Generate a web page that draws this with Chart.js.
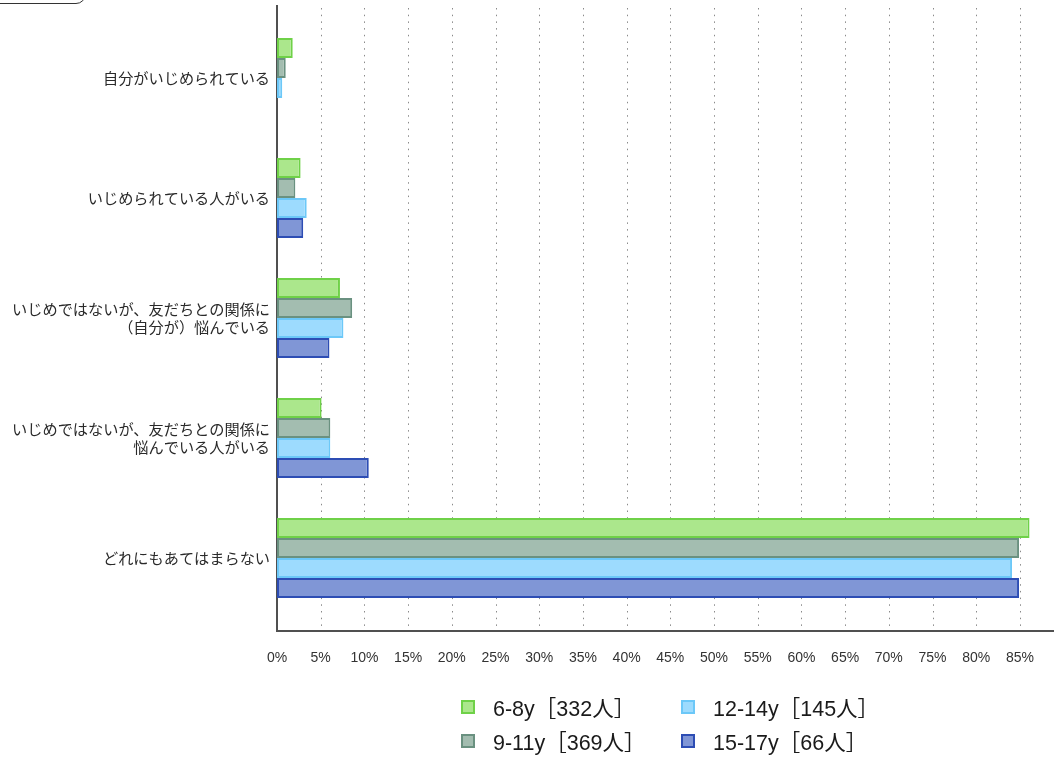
<!DOCTYPE html>
<html lang="ja">
<head>
<meta charset="utf-8">
<script src="https://cdn.jsdelivr.net/npm/chart.js@4.4.1/dist/chart.umd.min.js"></script>
<style>
  html, body { margin: 0; padding: 0; background: #fff; overflow: hidden; }
  #wrap { position: relative; width: 1054px; height: 757px; }
  #tab {
    position: absolute; left: -12px; top: -30px; width: 96px; height: 32px;
    border: 1.5px solid #333; border-radius: 10px; background: #fff;
  }
  #legend {
    position: absolute; left: 461px; top: 695px;
    display: grid; grid-template-columns: 220px 200px; row-gap: 11px;
    font-family: "Liberation Sans", Arial, "Noto Sans CJK JP", sans-serif;
    font-size: 21.5px; color: #1a1a1a;
  }
  .item { display: flex; align-items: center; height: 23px; }
  .sw { width: 14px; height: 14px; border: 2px solid; box-sizing: border-box; margin-right: 18px; }
</style>
</head>
<body>
<div id="wrap">
  <div id="tab"></div>
  <canvas id="chart" width="1054" height="757"></canvas>
  <div id="legend"></div>
</div>
<script>
const categories = [
  '自分がいじめられている',
  'いじめられている人がいる',
  ['いじめではないが、友だちとの関係に', '（自分が）悩んでいる'],
  ['いじめではないが、友だちとの関係に', '悩んでいる人がいる'],
  'どれにもあてはまらない'
];
const groups = ['6-8y［332人］', '9-11y［369人］', '12-14y［145人］', '15-17y［66人］'];
const age6to8 = [1.8, 2.7, 7.2, 5.1, 86.1];
const age9to11 = [1.0, 2.1, 8.6, 6.1, 84.9];
const age12to14 = [0.6, 3.4, 7.6, 6.1, 84.1];
const age15to17 = [0, 3.0, 6.0, 10.5, 84.9];
const xTicks = [0, 5, 10, 15, 20, 25, 30, 35, 40, 45, 50, 55, 60, 65, 70, 75, 80, 85];
const fills = ['#abe78c', '#a3bdb0', '#9ddbfe', '#8096d6'];
const borders = ['#6fd148', '#6a9180', '#6cc8f8', '#2d4db4'];

const seriesValues = [age6to8, age9to11, age12to14, age15to17];

// axis lines and dotted grid, drawn a bit past the plot area like the original
const frameLines = {
  id: 'frameLines',
  beforeDatasetsDraw(chart) {
    const { ctx, scales: { x } } = chart;
    const top = 5, bottom = 630, left = x.getPixelForValue(0);
    ctx.save();
    ctx.strokeStyle = '#8a8a8a';
    ctx.lineWidth = 1;
    ctx.setLineDash([1.5, 5.2]);
    x.ticks.forEach(t => {
      if (t.value === 0) return;
      const px = Math.round(x.getPixelForValue(t.value)) + 0.5;
      ctx.beginPath();
      ctx.moveTo(px, top + 3);
      ctx.lineTo(px, bottom);
      ctx.stroke();
    });
    ctx.setLineDash([]);
    ctx.strokeStyle = '#505050';
    ctx.lineWidth = 2;
    ctx.beginPath();
    ctx.moveTo(left, top);
    ctx.lineTo(left, bottom + 1);
    ctx.lineTo(chart.width, bottom + 1);
    ctx.stroke();
    ctx.restore();
  }
};

const chart = new Chart(document.getElementById('chart'), {
  type: 'bar',
  data: {
    labels: categories,
    datasets: groups.map((g, i) => ({
      label: g,
      data: seriesValues[i],
      backgroundColor: fills[i],
      borderColor: borders[i],
      borderWidth: 2,
      borderSkipped: false,
      categoryPercentage: 0.667,
      barPercentage: 1.0
    }))
  },
  options: {
    indexAxis: 'y',
    responsive: false,
    animation: false,
    layout: { padding: { top: 18, right: 0, bottom: 0, left: 0 } },
    plugins: { legend: { display: false }, tooltip: { enabled: false } },
    scales: {
      x: {
        min: 0,
        max: 88.9,
        afterBuildTicks: s => { s.ticks = xTicks.map(v => ({ value: v })); },
        afterFit: s => {
          s.height = 139;
          s.paddingLeft = 0;
          s.paddingRight = 0;
        },
        grid: { display: false, drawTicks: false },
        border: { display: false },
        ticks: {
          padding: 32,
          color: '#333',
          font: { family: '"Liberation Sans", Arial, sans-serif', size: 14 },
          callback: v => v + '%'
        }
      },
      y: {
        afterFit: s => { s.width = 277; },
        grid: { display: false, drawTicks: false },
        border: { display: false },
        ticks: {
          padding: 7,
          color: '#2a2a2a',
          font: { family: '"Noto Sans CJK JP", sans-serif', size: 15.2, lineHeight: 1.2 }
        }
      }
    }
  },
  plugins: [frameLines]
});

// legend laid out column-wise: 6-8y / 9-11y, then 12-14y / 15-17y
const legendEl = document.getElementById('legend');
[0, 2, 1, 3].forEach(i => {
  const ds = chart.data.datasets[i];
  const item = document.createElement('div');
  item.className = 'item';
  const sw = document.createElement('span');
  sw.className = 'sw';
  sw.style.background = ds.backgroundColor;
  sw.style.borderColor = ds.borderColor;
  item.appendChild(sw);
  item.appendChild(document.createTextNode(ds.label));
  legendEl.appendChild(item);
});
</script>
</body>
</html>
